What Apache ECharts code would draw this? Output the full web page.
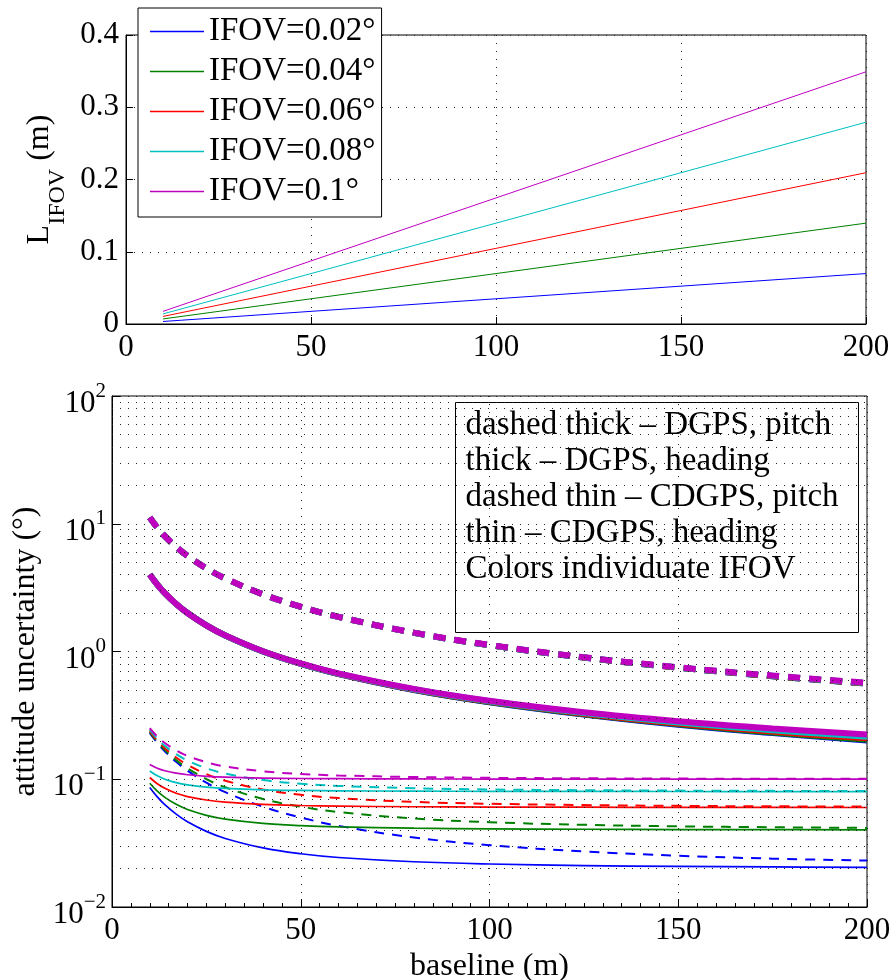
<!DOCTYPE html>
<html><head><meta charset="utf-8">
<script src="https://cdn.jsdelivr.net/npm/echarts@6/dist/echarts.min.js"></script>
<style>html,body{margin:0;padding:0;background:#fff}#c{width:896px;height:980px}</style>
</head><body><div id="c"></div><script>
// ---------- Top panel data ----------
const topX = [10, 50, 100, 150, 200];
const L_002 = [0.0035, 0.0175, 0.0349, 0.0524, 0.0698];
const L_004 = [0.0070, 0.0349, 0.0698, 0.1047, 0.1396];
const L_006 = [0.0105, 0.0524, 0.1047, 0.1571, 0.2094];
const L_008 = [0.0140, 0.0698, 0.1396, 0.2094, 0.2793];
const L_010 = [0.0175, 0.0873, 0.1745, 0.2618, 0.3491];
const ifovNames = ['IFOV=0.02°', 'IFOV=0.04°', 'IFOV=0.06°', 'IFOV=0.08°', 'IFOV=0.1°'];
const colors = ['#0000ff', '#008000', '#ff0000', '#00bfbf', '#bf00bf'];

// ---------- Bottom panel data ----------
const baseline = [10, 12, 14, 17, 20, 25, 30, 40, 50, 60, 80, 100, 125, 150, 175, 200];
// DGPS pitch (dashed thick)
const dgpsPitch_002 = [11.2, 9.333, 8.0, 6.588, 5.6, 4.48, 3.733, 2.8, 2.24, 1.867, 1.4, 1.12, 0.896, 0.747, 0.640, 0.560];
const dgpsPitch_004 = [11.2, 9.333, 8.0, 6.588, 5.6, 4.48, 3.734, 2.8, 2.240, 1.867, 1.401, 1.121, 0.897, 0.748, 0.641, 0.561];
const dgpsPitch_006 = [11.2, 9.334, 8.0, 6.589, 5.6, 4.48, 3.734, 2.801, 2.241, 1.868, 1.401, 1.122, 0.898, 0.749, 0.643, 0.563];
const dgpsPitch_008 = [11.2, 9.334, 8.0, 6.589, 5.601, 4.481, 3.734, 2.801, 2.241, 1.868, 1.402, 1.123, 0.900, 0.751, 0.645, 0.566];
const dgpsPitch_010 = [11.2, 9.334, 8.001, 6.589, 5.601, 4.481, 3.735, 2.802, 2.242, 1.869, 1.404, 1.125, 0.902, 0.753, 0.648, 0.569];
// DGPS heading (thick)
const dgpsHead_002 = [4.0, 3.333, 2.857, 2.353, 2.0, 1.6, 1.334, 1.0, 0.800, 0.667, 0.500, 0.401, 0.321, 0.267, 0.230, 0.201];
const dgpsHead_004 = [4.0, 3.334, 2.857, 2.353, 2.0, 1.601, 1.334, 1.001, 0.801, 0.668, 0.502, 0.402, 0.323, 0.270, 0.232, 0.204];
const dgpsHead_006 = [4.0, 3.334, 2.858, 2.354, 2.001, 1.601, 1.335, 1.002, 0.802, 0.669, 0.504, 0.405, 0.326, 0.273, 0.236, 0.209];
const dgpsHead_008 = [4.001, 3.334, 2.858, 2.354, 2.002, 1.602, 1.336, 1.003, 0.804, 0.671, 0.506, 0.408, 0.330, 0.278, 0.242, 0.215];
const dgpsHead_010 = [4.001, 3.335, 2.859, 2.355, 2.003, 1.603, 1.337, 1.005, 0.806, 0.674, 0.510, 0.412, 0.335, 0.285, 0.250, 0.224];
// CDGPS pitch (dashed thin)
const cdgpsPitch_002 = [0.2309, 0.1927, 0.1655, 0.1368, 0.1167, 0.0941, 0.0792, 0.0609, 0.0502, 0.0432, 0.0350, 0.0305, 0.0272, 0.0252, 0.0239, 0.0231];
const cdgpsPitch_004 = [0.2335, 0.1958, 0.1691, 0.1411, 0.1218, 0.1003, 0.0865, 0.0700, 0.0610, 0.0554, 0.0493, 0.0461, 0.0440, 0.0428, 0.0421, 0.0416];
const cdgpsPitch_006 = [0.2377, 0.2008, 0.1749, 0.1480, 0.1297, 0.1098, 0.0974, 0.0831, 0.0756, 0.0712, 0.0665, 0.0643, 0.0628, 0.0619, 0.0614, 0.0611];
const cdgpsPitch_008 = [0.2435, 0.2077, 0.1827, 0.1572, 0.1401, 0.1219, 0.1108, 0.0985, 0.0923, 0.0887, 0.0850, 0.0832, 0.0821, 0.0815, 0.0811, 0.0808];
const cdgpsPitch_010 = [0.2508, 0.2162, 0.1923, 0.1683, 0.1524, 0.1359, 0.1260, 0.1154, 0.1101, 0.1071, 0.1041, 0.1026, 0.1017, 0.1012, 0.1009, 0.1007];
// CDGPS heading (thin)
const cdgpsHead_002 = [0.0863, 0.0728, 0.0632, 0.0533, 0.0465, 0.0391, 0.0344, 0.0290, 0.0261, 0.0244, 0.0226, 0.0217, 0.0211, 0.0208, 0.0206, 0.0204];
const cdgpsHead_004 = [0.0930, 0.0806, 0.0721, 0.0636, 0.0580, 0.0522, 0.0488, 0.0452, 0.0434, 0.0424, 0.0414, 0.0409, 0.0406, 0.0404, 0.0403, 0.0402];
const cdgpsHead_006 = [0.1032, 0.0922, 0.0849, 0.0777, 0.0732, 0.0688, 0.0662, 0.0636, 0.0623, 0.0616, 0.0609, 0.0606, 0.0604, 0.0603, 0.0602, 0.0601];
const cdgpsHead_008 = [0.1160, 0.1063, 0.1000, 0.0940, 0.0904, 0.0868, 0.0848, 0.0827, 0.0817, 0.0812, 0.0807, 0.0804, 0.0803, 0.0802, 0.0801, 0.0801];
const cdgpsHead_010 = [0.1306, 0.1221, 0.1166, 0.1115, 0.1085, 0.1055, 0.1038, 0.1022, 0.1014, 0.1010, 0.1005, 0.1004, 0.1002, 0.1002, 0.1001, 0.1001];

const noteLines = ['dashed thick \u2013 DGPS, pitch', 'thick \u2013 DGPS, heading', 'dashed thin \u2013 CDGPS, pitch', 'thin \u2013 CDGPS, heading', 'Colors individuate IFOV'];
const logMinorMultipliers = [2, 3, 4, 5, 6, 7, 8, 9];
const logDecades = [0.01, 0.1, 1, 10];

// ---------- build ----------
const FONT = 'Liberation Serif';
const dotted = {color: '#222', type: [1, 7], width: 1};
const zip = (xs, ys) => xs.map((x, i) => [x, ys[i]]);

const topSets = [L_002, L_004, L_006, L_008, L_010];
const bottomSets = [
  [dgpsPitch_002, dgpsHead_002, cdgpsPitch_002, cdgpsHead_002],
  [dgpsPitch_004, dgpsHead_004, cdgpsPitch_004, cdgpsHead_004],
  [dgpsPitch_006, dgpsHead_006, cdgpsPitch_006, cdgpsHead_006],
  [dgpsPitch_008, dgpsHead_008, cdgpsPitch_008, cdgpsHead_008],
  [dgpsPitch_010, dgpsHead_010, cdgpsPitch_010, cdgpsHead_010]
];
const kindStyles = [
  {width: 6, type: [12, 9]},
  {width: 6, type: 'solid'},
  {width: 2, type: [10, 8]},
  {width: 1.7, type: 'solid'}
];
const kindNames = ['DGPS pitch', 'DGPS heading', 'CDGPS pitch', 'CDGPS heading'];

const minorVals = [];
logDecades.forEach(d => logMinorMultipliers.forEach(m => minorVals.push(+(d * m).toPrecision(3))));

const series = [];
topSets.forEach((arr, i) => {
  series.push({
    name: ifovNames[i], type: 'line', xAxisIndex: 0, yAxisIndex: 0,
    data: zip(topX, arr), symbol: 'none', color: colors[i],
    itemStyle: {color: colors[i], borderWidth: 0},
    lineStyle: {width: 1, color: colors[i]}, animation: false
  });
});
series.push({
  name: 'minorGrid', type: 'line', xAxisIndex: 1, yAxisIndex: 1, data: [],
  symbol: 'none', silent: true, animation: false,
  markLine: {silent: true, symbol: 'none', label: {show: false}, animation: false,
    lineStyle: dotted, emphasis: {disabled: true},
    data: minorVals.map(v => ({yAxis: v}))}
});
bottomSets.forEach((group, ci) => {
  group.forEach((arr, k) => {
    series.push({
      name: kindNames[k] + ' ' + ifovNames[ci], type: 'line', xAxisIndex: 1, yAxisIndex: 1,
      data: zip(baseline, arr), symbol: 'none', smooth: 0.4, color: colors[ci],
      lineStyle: {width: kindStyles[k].width, type: kindStyles[k].type, color: colors[ci]},
      animation: false
    });
  });
});

const sup = n => (n < 0 ? '\u2212' + (-n) : '' + n);

const option = {
  backgroundColor: '#fff',
  textStyle: {fontFamily: FONT, color: '#000'},
  animation: false,
  grid: [
    {left: 126, right: 30, top: 35, height: 289, show: true, borderColor: '#000', borderWidth: 1, backgroundColor: 'transparent', containLabel: false, outerBoundsMode: 'none'},
    {left: 112, right: 29, top: 396, height: 511, show: true, borderColor: '#000', borderWidth: 1, backgroundColor: 'transparent', containLabel: false, outerBoundsMode: 'none'}
  ],
  legend: {
    data: ifovNames, orient: 'vertical', left: 138, top: 8,
    padding: [7, 6, 9, 12], itemGap: 7, itemWidth: 54, itemHeight: 1.5,
    icon: 'rect',
    itemStyle: {color: 'inherit', borderWidth: 0, borderColor: 'transparent'},
    borderColor: '#000', borderWidth: 1, backgroundColor: '#fff',
    textStyle: {fontFamily: FONT, fontSize: 33, lineHeight: 33, color: '#000'},
    selectedMode: false
  },
  xAxis: [
    {type: 'value', gridIndex: 0, min: 0, max: 200, interval: 50,
     axisLine: {lineStyle: {color: '#000'}}, axisTick: {inside: true, length: 7, lineStyle: {color: '#000'}},
     axisLabel: {fontFamily: FONT, fontSize: 31, color: '#000', margin: 8},
     splitLine: {show: true, lineStyle: dotted}},
    {type: 'value', gridIndex: 1, min: 0, max: 200, interval: 50,
     name: 'baseline (m)', nameLocation: 'middle', nameGap: 41,
     nameTextStyle: {fontFamily: FONT, fontSize: 32, color: '#000'},
     axisLine: {lineStyle: {color: '#000'}}, axisTick: {inside: true, length: 8, lineStyle: {color: '#000'}},
     minorTick: {show: true, splitNumber: 10, length: 4, lineStyle: {color: '#000'}},
     axisLabel: {fontFamily: FONT, fontSize: 31, color: '#000', margin: 8},
     splitLine: {show: true, lineStyle: dotted}}
  ],
  yAxis: [
    {type: 'value', gridIndex: 0, min: 0, max: 0.4, interval: 0.1,
     name: '{a|L}{b|IFOV}{a| (m)}', nameLocation: 'middle', nameGap: 52, nameRotate: 90,
     nameTextStyle: {fontFamily: FONT, color: '#000',
       rich: {a: {fontFamily: FONT, fontSize: 32, lineHeight: 32, verticalAlign: 'top'},
              b: {fontFamily: FONT, fontSize: 24, lineHeight: 24, verticalAlign: 'top', padding: [22, 0, 0, 0]}}},
     axisLine: {lineStyle: {color: '#000'}}, axisTick: {inside: true, length: 7, lineStyle: {color: '#000'}},
     axisLabel: {fontFamily: FONT, fontSize: 31, color: '#000', margin: 7},
     splitLine: {show: true, lineStyle: dotted}},
    {type: 'log', gridIndex: 1, logBase: 10, min: 0.01, max: 100,
     name: 'attitude uncertainty (°)', nameLocation: 'middle', nameGap: 63,
     nameTextStyle: {fontFamily: FONT, fontSize: 32, color: '#000'},
     axisLine: {lineStyle: {color: '#000'}}, axisTick: {inside: true, length: 8, lineStyle: {color: '#000'}},
     axisLabel: {fontFamily: FONT, color: '#000', margin: 6,
       formatter: v => '{b|10}{s|' + sup(Math.round(Math.log10(v))) + '}',
       rich: {b: {fontFamily: FONT, fontSize: 31, lineHeight: 31, verticalAlign: 'top', padding: [8, 0, 8, 0]},
              s: {fontFamily: FONT, fontSize: 21, lineHeight: 21, verticalAlign: 'top'}}},
     splitLine: {show: true, lineStyle: dotted}}
  ],
  graphic: [{
    type: 'group', left: 455, top: 402, z: 100,
    children: [
      {type: 'rect', shape: {x: 0, y: 0, width: 403, height: 230}, style: {fill: '#fff', stroke: '#000', lineWidth: 1}},
      {type: 'text', x: 10, y: 5, style: {text: noteLines.join('\n'), font: '33px "Liberation Serif"', lineHeight: 36, fill: '#000'}}
    ]
  }],
  series: series
};
const chart = echarts.init(document.getElementById('c'));
chart.setOption(option);
</script></body></html>
